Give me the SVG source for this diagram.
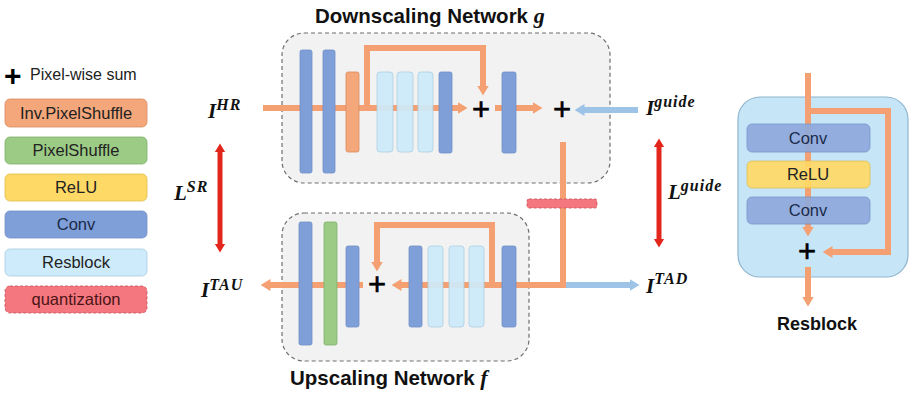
<svg xmlns="http://www.w3.org/2000/svg" width="914" height="396" viewBox="0 0 914 396">
<style>
.bg{fill:#fff}
.net{fill:#F2F2F2;stroke:#6E6E6E;stroke-width:1.2;stroke-dasharray:4 3}
.conv{fill:#7F9FD8;stroke:#6F8FC8;stroke-width:0.8}
.res{fill:#CDEBFA;stroke:#A7CDE0;stroke-width:0.8}
.ips{fill:#F4A77A;stroke:#D98B5E;stroke-width:0.8}
.ps{fill:#9CCB86;stroke:#7FB06A;stroke-width:0.8}
.relu{fill:#FFD966;stroke:#E0BC4A;stroke-width:0.8}
.quant{fill:#F4777F;stroke:#C65058;stroke-width:0.8;stroke-dasharray:3 2}
.ol{fill:none;stroke:#F4A072;stroke-width:6}
.bl{fill:none;stroke:#9DC3E6;stroke-width:6}
.rd{fill:none;stroke:#E3261C;stroke-width:5}
.plus{font-family:"Liberation Sans",Arial,sans-serif;font-size:31px;fill:#000;text-anchor:middle;stroke:#000;stroke-width:0.6}
.title{font-family:"Liberation Sans",Arial,sans-serif;font-size:20.5px;font-weight:bold;fill:#111}
.var{font-family:"Liberation Serif","Times New Roman",serif;font-weight:bold;font-style:italic;fill:#111;font-size:21px}
.sup{font-size:16px;letter-spacing:1px}
.lg{font-family:"Liberation Sans",Arial,sans-serif;font-size:16.5px;fill:#222;text-anchor:middle}
</style>
<defs>
<marker id="ao" viewBox="0 0 10 12" markerWidth="10" markerHeight="12" refX="0.5" refY="6" orient="auto" markerUnits="userSpaceOnUse"><path d="M0,0 L10,6 L0,12 z" fill="#F4A072"/></marker>
<marker id="ab" viewBox="0 0 10 12" markerWidth="10" markerHeight="12" refX="0.5" refY="6" orient="auto" markerUnits="userSpaceOnUse"><path d="M0,0 L10,6 L0,12 z" fill="#9DC3E6"/></marker>
<marker id="ar" viewBox="0 0 10 12" markerWidth="9" markerHeight="12" refX="0.5" refY="6" orient="auto-start-reverse" markerUnits="userSpaceOnUse"><path d="M0,0 L10,6 L0,12 z" fill="#E3261C"/></marker>
</defs>
<rect class="bg" x="0" y="0" width="914" height="396"/>

<g id="legend">
  <text x="4" y="86" style="font-family:'Liberation Sans',Arial,sans-serif;font-size:30px;font-weight:bold">+</text>
  <text x="30" y="80" style="font-family:'Liberation Sans',Arial,sans-serif;font-size:16px;fill:#222">Pixel-wise sum</text>
  <g id="lg-ips"><rect class="ips" x="5" y="99" width="142" height="28" rx="5"/><text class="lg" x="76" y="119">Inv.PixelShuffle</text></g>
  <g id="lg-ps"><rect class="ps" x="5" y="137" width="142" height="27" rx="5"/><text class="lg" x="76" y="156">PixelShuffle</text></g>
  <g id="lg-relu"><rect class="relu" x="5" y="174" width="142" height="27" rx="5"/><text class="lg" x="76" y="193">ReLU</text></g>
  <g id="lg-conv"><rect class="conv" x="5" y="211" width="142" height="27" rx="5"/><text class="lg" x="76" y="230" style="fill:#1B2A4A">Conv</text></g>
  <g id="lg-res"><rect class="res" x="5" y="249" width="142" height="27" rx="5"/><text class="lg" x="76" y="268">Resblock</text></g>
  <g id="lg-quant"><rect class="quant" x="5" y="286" width="142" height="27" rx="5"/><text class="lg" x="76" y="305" style="fill:#4A1416">quantization</text></g>
</g>

<g id="down-net">
  <rect class="net" x="282" y="33" width="328" height="150" rx="22"/>
  <text class="title" x="315" y="23">Downscaling Network <tspan class="var" style="font-size:22px">g</tspan></text>
</g>
<g id="up-net">
  <rect class="net" x="282" y="213" width="247" height="148" rx="22"/>
  <text class="title" x="290" y="385">Upscaling Network <tspan class="var" style="font-size:22px">f</tspan></text>
</g>

<g id="connectors">
  <path class="ol" d="M263,108 H458" marker-end="url(#ao)"/>
  <path class="ol" d="M367,108 V48 H483 V86" marker-end="url(#ao)"/>
  <path class="ol" d="M495,108 H533" marker-end="url(#ao)"/>
  <path class="bl" d="M638,110 H584" marker-end="url(#ab)"/>
  <path class="ol" d="M563,142 V285 H401" marker-end="url(#ao)"/>
  <path class="ol" d="M363,285 H270" marker-end="url(#ao)"/>
  <path class="ol" d="M492,285 V225 H377 V262" marker-end="url(#ao)"/>
  <path class="bl" d="M566,285 H630" marker-end="url(#ab)"/>
  <path class="rd" d="M220,152 V244" marker-start="url(#ar)" marker-end="url(#ar)"/>
  <path class="rd" d="M659,147 V239" marker-start="url(#ar)" marker-end="url(#ar)"/>
</g>

<g id="down-blocks">
  <rect id="d-conv1" class="conv" x="300" y="50" width="12" height="123" rx="2"/>
  <rect id="d-conv2" class="conv" x="323" y="50" width="12" height="123" rx="2"/>
  <rect id="d-ips" class="ips" x="346" y="72" width="13" height="80" rx="2"/>
  <rect id="d-res1" class="res" x="377" y="72" width="16" height="80" rx="3" opacity="0.92"/>
  <rect id="d-res2" class="res" x="397" y="72" width="16" height="80" rx="3" opacity="0.92"/>
  <rect id="d-res3" class="res" x="418" y="72" width="15" height="80" rx="3" opacity="0.92"/>
  <rect id="d-conv3" class="conv" x="439" y="72" width="13" height="81" rx="2"/>
  <rect id="d-conv4" class="conv" x="502" y="72" width="14" height="81" rx="2"/>
  <text class="plus" x="481" y="120">+</text>
  <text class="plus" x="562" y="120">+</text>
</g>

<g id="up-blocks">
  <rect id="u-conv1" class="conv" x="299" y="222" width="13" height="123" rx="2"/>
  <rect id="u-ps" class="ps" x="324" y="222" width="13" height="123" rx="2"/>
  <rect id="u-conv2" class="conv" x="346" y="246" width="13" height="81" rx="2"/>
  <rect id="u-conv3" class="conv" x="409" y="246" width="13" height="81" rx="2"/>
  <rect id="u-res1" class="res" x="428" y="246" width="15" height="81" rx="3" opacity="0.92"/>
  <rect id="u-res2" class="res" x="449" y="246" width="15" height="81" rx="3" opacity="0.92"/>
  <rect id="u-res3" class="res" x="469" y="246" width="15" height="81" rx="3" opacity="0.92"/>
  <rect id="u-conv4" class="conv" x="502" y="246" width="14" height="81" rx="2"/>
  <text class="plus" x="377" y="295">+</text>
</g>

<g id="quantization">
  <rect class="quant" x="527" y="199" width="70" height="9" rx="2"/>
</g>

<g id="labels">
  <text class="var" x="208" y="118">I<tspan class="sup" y="110">HR</tspan></text>
  <text class="var" x="174" y="200">L<tspan class="sup" y="192">SR</tspan></text>
  <text class="var" x="201" y="297">I<tspan class="sup" y="290">TAU</tspan></text>
  <text class="var" x="646" y="115">I<tspan class="sup" y="107">guide</tspan></text>
  <text class="var" x="668" y="199">L<tspan class="sup" y="191">guide</tspan></text>
  <text class="var" x="646" y="293">I<tspan class="sup" y="284">TAD</tspan></text>
</g>

<g id="resblock-detail">
  <rect x="738" y="97" width="170" height="180" rx="22" fill="#C6E6F8" stroke="#8EB4CC" stroke-width="1.2"/>
  <path class="ol" d="M808,73 V227" marker-end="url(#ao)"/>
  <path class="ol" d="M808,111 H888 V252 H832" marker-end="url(#ao)"/>
  <path class="ol" d="M808,267 V297" marker-end="url(#ao)"/>
  <g id="rb-conv1"><rect class="conv" x="747" y="124" width="123" height="28" rx="5" style="fill:#8FAADC" opacity="0.92"/><text class="lg" x="808" y="144" style="fill:#1B2A4A">Conv</text></g>
  <g id="rb-relu"><rect class="relu" x="747" y="161" width="123" height="27" rx="5" opacity="0.92"/><text class="lg" x="808" y="180">ReLU</text></g>
  <g id="rb-conv2"><rect class="conv" x="747" y="197" width="123" height="27" rx="5" style="fill:#8FAADC" opacity="0.92"/><text class="lg" x="808" y="216" style="fill:#1B2A4A">Conv</text></g>
  <text class="plus" x="807" y="262">+</text>
  <text class="title" x="817" y="330" style="font-size:18px;text-anchor:middle">Resblock</text>
</g>
</svg>
